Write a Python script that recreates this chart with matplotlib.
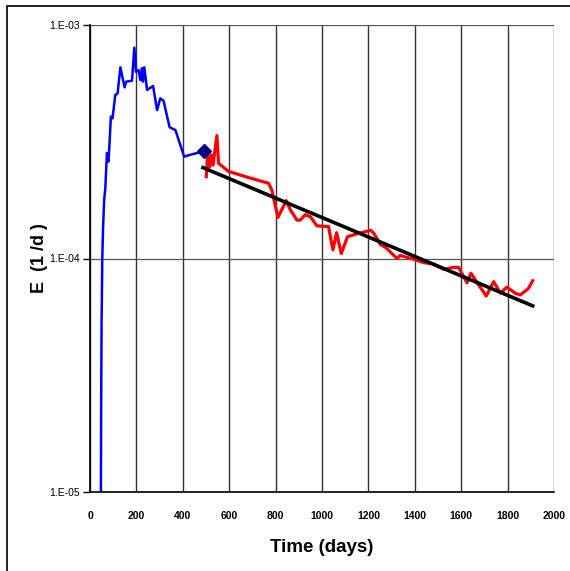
import numpy as np
import matplotlib
matplotlib.use("Agg")
import matplotlib.pyplot as plt
from matplotlib.patches import Rectangle
from matplotlib.ticker import FixedLocator, FuncFormatter

plt.rcParams['font.family'] = ['Liberation Sans Narrow', 'Liberation Sans', 'DejaVu Sans']

# early period (blue)
t_early = [46, 47, 48, 49, 50, 52, 53, 56, 61, 66, 73, 80, 90, 97, 109, 119, 131,
           149, 156, 181, 191, 198, 209, 217, 224, 228, 234, 246, 272, 289, 303,
           317, 343, 368, 406, 426, 468, 490]
e_early = [8.0e-6, 1.0e-5, 2.17e-5, 3.56e-5, 5.46e-5, 8.1e-5, 1.0e-4, 1.32e-4, 1.78e-4,
           2.0e-4, 2.83e-4, 2.6e-4, 4.05e-4, 3.98e-4, 5.01e-4, 5.1e-4, 6.59e-4,
           5.41e-4, 5.72e-4, 5.77e-4, 8.0e-4, 6.31e-4, 6.41e-4, 5.81e-4, 6.53e-4,
           5.72e-4, 6.59e-4, 5.27e-4, 5.48e-4, 4.32e-4, 4.85e-4, 4.74e-4, 3.65e-4,
           3.55e-4, 2.73e-4, 2.77e-4, 2.84e-4, 2.88e-4]

# switch point
t_mark = [490]
e_mark = [2.88e-4]

# late period (red)
t_late = [501, 507, 516, 523, 530, 547, 554, 597, 691, 770, 784, 810, 846, 863, 892,
          906, 928, 950, 978, 1028, 1047, 1063, 1083, 1110, 1156, 1210, 1224, 1251,
          1277, 1323, 1337, 1395, 1438, 1481, 1524, 1567, 1589, 1625, 1642, 1675,
          1708, 1740, 1769, 1797, 1833, 1855, 1890, 1908]
e_late = [2.24e-4, 2.77e-4, 2.47e-4, 2.77e-4, 2.51e-4, 3.36e-4, 2.56e-4, 2.36e-4,
          2.21e-4, 2.10e-4, 1.96e-4, 1.50e-4, 1.77e-4, 1.62e-4, 1.46e-4, 1.46e-4,
          1.54e-4, 1.51e-4, 1.38e-4, 1.37e-4, 1.09e-4, 1.29e-4, 1.05e-4, 1.24e-4,
          1.28e-4, 1.32e-4, 1.28e-4, 1.15e-4, 1.11e-4, 1.00e-4, 1.03e-4, 9.93e-5,
          9.60e-5, 9.47e-5, 8.99e-5, 9.16e-5, 9.16e-5, 7.87e-5, 8.65e-5, 7.71e-5,
          6.91e-5, 7.96e-5, 7.10e-5, 7.54e-5, 7.10e-5, 6.98e-5, 7.45e-5, 8.03e-5]

# exponential trend (ends)
t_fit = [487, 1908]
e_fit = [2.45e-4, 6.27e-5]

x_ticks = [0, 200, 400, 600, 800, 1000, 1200, 1400, 1600, 1800, 2000]
y_ticks = [1e-5, 1e-4, 1e-3]
y_tick_labels = ['1.E-05', '1.E-04', '1.E-03']

fig = plt.figure(figsize=(5.70, 5.71), dpi=100)
ax = fig.add_axes([90/570, 1 - 492/571, 464/570, 467/571])

# outer frame (only top and left edge fall inside the image)
fig.patches.append(Rectangle((7/570, -0.1), 1.2, 1 - 6/571 + 0.1,
                             transform=fig.transFigure, fill=False,
                             edgecolor='black', linewidth=1.2))

ax.set_yscale('log')
ax.set_xlim(0, 2000)
ax.set_ylim(1e-5, 1e-3)

ax.plot(t_early, e_early, color='#0000FF', linewidth=1.8, zorder=3)
ax.plot(t_late, e_late, color='#FF0000', linewidth=2.3, zorder=3)
ax.plot(t_fit, e_fit, color='black', linewidth=2.6, zorder=4)
ax.plot(t_mark, e_mark, marker='D', color='#000080', markersize=7, linestyle='none', zorder=5)

ax.xaxis.set_major_locator(FixedLocator(x_ticks))
ax.yaxis.set_major_locator(FixedLocator(y_ticks))
ax.yaxis.set_minor_locator(FixedLocator([]))
ax.yaxis.set_major_formatter(FuncFormatter(lambda v, p: y_tick_labels[y_ticks.index(v)] if v in y_ticks else ''))

ax.grid(True, which='major', axis='x', color='#333333', linewidth=1.0)
ax.grid(True, which='major', axis='y', color='#555555', linewidth=0.9)
ax.set_axisbelow(True)

for s in ['top', 'right']:
    ax.spines[s].set_visible(False)
ax.spines['left'].set_linewidth(1.2)
ax.spines['bottom'].set_linewidth(1.2)

ax.tick_params(axis='y', direction='out', length=5, width=1, labelsize=7.5, pad=2)
ax.tick_params(axis='x', length=0, labelsize=7.5, pad=14)
for lbl in ax.get_xticklabels():
    lbl.set_fontweight('bold')

ax.set_xlabel('Time (days)', fontsize=13.5, fontweight='bold', labelpad=13)
ax.set_ylabel('E  (1 /d )', fontsize=13, fontweight='bold', labelpad=1)

fig.savefig('out.png', dpi=100)
